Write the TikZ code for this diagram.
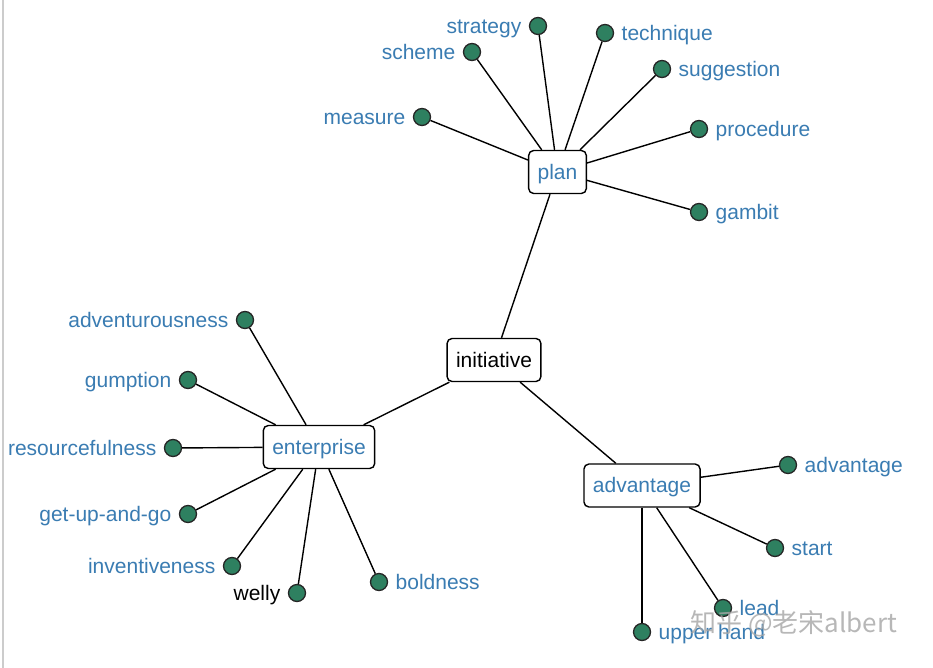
\documentclass[tikz,border=0pt]{standalone}
\usepackage{fontspec}
\setmainfont{Liberation Sans}
\newfontfamily\cjkfont{Noto Sans CJK SC}
\definecolor{leafgreen}{RGB}{46,128,96}
\definecolor{lblblue}{RGB}{58,124,178}
\tikzset{
  hub/.style={draw=black, line width=1.4pt, rounded corners=5pt, fill=white,
    inner xsep=9pt, inner ysep=0pt, minimum height=43pt, text height=17.5pt, text depth=3pt,
    font=\fontsize{21}{24}\selectfont},
  leaf/.style={circle, draw=black!85, fill=leafgreen, line width=1.3pt, minimum size=17pt, inner sep=0pt},
  lbl/.style={inner sep=0pt, text=lblblue, font=\fontsize{21}{24}\selectfont, yshift=-5pt},
  lblL/.style={lbl, anchor=mid east, xshift=-16.5pt},
  lblR/.style={lbl, anchor=mid west, xshift=16.5pt},
  conn/.style={line width=1.4pt, draw=black}
}
\begin{document}
\begin{tikzpicture}[x=1pt,y=-1pt]
\useasboundingbox (0,0) rectangle (933,668);
\fill[white] (0,0) rectangle (933,668);
\draw[line width=1.5pt, draw=black!20] (3,0) -- (3,668);

% hubs
\node[hub] (init) at (494,360) {initiative};
\node[hub, text=lblblue] (plan) at (557.5,172) {plan};
\node[hub, text=lblblue] (ent) at (319,447) {enterprise};
\node[hub, text=lblblue] (adv) at (642,485.5) {advantage};

% plan leaves
\node[leaf] (strategy) at (538,26) {};
\node[leaf] (scheme) at (472,52) {};
\node[leaf] (measure) at (422,117) {};
\node[leaf] (technique) at (605,33) {};
\node[leaf] (suggestion) at (662,69) {};
\node[leaf] (procedure) at (699,129) {};
\node[leaf] (gambit) at (699,212) {};
\node[lblL] (strategyL) at (strategy.center) {strategy};
\node[lblL] (schemeL) at (scheme.center) {scheme};
\node[lblL] (measureL) at (measure.center) {measure};
\node[lblR] (techniqueL) at (technique.center) {technique};
\node[lblR] (suggestionL) at (suggestion.center) {suggestion};
\node[lblR] (procedureL) at (procedure.center) {procedure};
\node[lblR] (gambitL) at (gambit.center) {gambit};

% enterprise leaves
\node[leaf] (adventurousness) at (245,320) {};
\node[leaf] (gumption) at (188,380) {};
\node[leaf] (resourcefulness) at (173,448) {};
\node[leaf] (getup) at (188,514) {};
\node[leaf] (inventiveness) at (232,566) {};
\node[leaf] (welly) at (297,593) {};
\node[leaf] (boldness) at (379,582) {};
\node[lblL] (adventurousnessL) at (adventurousness.center) {adventurousness};
\node[lblL] (gumptionL) at (gumption.center) {gumption};
\node[lblL] (resourcefulnessL) at (resourcefulness.center) {resourcefulness};
\node[lblL] (getupL) at (getup.center) {get-up-and-go};
\node[lblL] (inventivenessL) at (inventiveness.center) {inventiveness};
\node[lblL, text=black] (wellyL) at (welly.center) {welly};
\node[lblR] (boldnessL) at (boldness.center) {boldness};

% advantage leaves
\node[leaf] (adv2) at (788,465) {};
\node[leaf] (start) at (775,548) {};
\node[leaf] (lead) at (723,608) {};
\node[leaf] (upper) at (642,632) {};
\node[lblR] (adv2L) at (adv2.center) {advantage};
\node[lblR] (startL) at (start.center) {start};
\node[lblR] (leadL) at (lead.center) {lead};
\node[lblR] (upperL) at (upper.center) {upper hand};

% connectors
\draw[conn] (init) -- (plan);
\draw[conn] (init) -- (ent);
\draw[conn] (init) -- (adv);
\foreach \n in {strategy,scheme,measure,technique,suggestion,procedure,gambit}
  \draw[conn] (plan) -- (\n);
\foreach \n in {adventurousness,gumption,resourcefulness,getup,inventiveness,welly,boldness}
  \draw[conn] (ent) -- (\n);
\foreach \n in {adv2,start,lead,upper}
  \draw[conn] (adv) -- (\n);

% watermark
\node[anchor=mid west, inner sep=0pt, text=black!35, opacity=0.8,
  font=\cjkfont\fontsize{26}{28}\selectfont] (wm) at (690,630) {知乎 @老宋albert};
\end{tikzpicture}
\end{document}
